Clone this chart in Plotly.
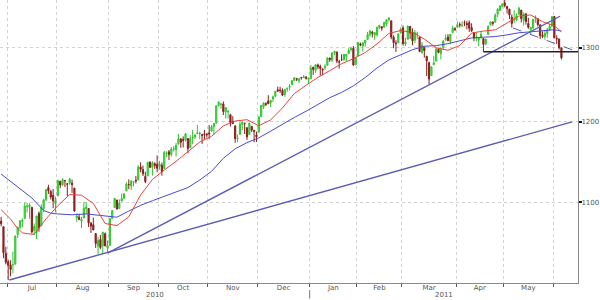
import numpy as np
import pandas as pd
import plotly.graph_objects as go

# ---------------- data ----------------
holidays = ["2010-07-05", "2010-09-06", "2010-11-25", "2010-12-24",
            "2011-01-17", "2011-02-21", "2011-04-22", "2011-05-30"]
dates = [d for d in pd.bdate_range("2010-06-28", "2011-06-06")
         if d.strftime("%Y-%m-%d") not in holidays]

open_ = [1077.5,1071.1,1040.6,1031.1,1027.7,1028.1,1028.5,1062.0,1070.5,1077.2,
         1080.7,1094.5,1094.5,1093.9,1066.9,1064.5,1086.7,1072.1,1092.2,1102.9,
         1117.4,1112.8,1108.1,1098.4,1107.5,1125.3,1121.1,1125.8,1122.1,1122.8,
         1122.9,1116.9,1081.5,1082.2,1077.5,1081.2,1092.1,1092.4,1075.6,1073.4,
         1063.2,1049.0,1056.3,1049.3,1062.9,1046.9,1049.7,1080.7,1093.6,1102.6,
         1092.4,1101.2,1104.6,1113.4,1121.2,1119.4,1123.9,1126.4,1126.6,1142.8,
         1139.5,1131.1,1131.7,1148.6,1142.3,1146.8,1146.0,1143.5,1145.0,1140.7,
         1159.8,1161.6,1158.4,1165.3,1164.3,1171.3,1177.8,1177.5,1176.8,1178.6,
         1166.7,1179.6,1180.5,1184.7,1184.9,1183.8,1184.5,1183.9,1185.7,1187.9,
         1193.8,1198.3,1221.2,1223.2,1223.6,1213.1,1213.0,1209.1,1200.4,1194.8,
         1178.3,1183.8,1196.1,1198.1,1192.5,1183.7,1194.2,1189.1,1183.0,1186.6,
         1206.8,1219.9,1223.9,1227.3,1225.0,1230.1,1233.9,1242.5,1241.8,1241.6,
         1236.3,1243.6,1245.8,1249.4,1254.9,1257.5,1254.7,1259.1,1258.8,1259.4,
         1256.8,1257.6,1273.0,1268.8,1276.3,1274.4,1270.8,1272.6,1275.7,1285.8,
         1282.9,1293.2,1294.5,1280.9,1283.6,1283.3,1288.2,1292.0,1297.5,1299.6,
         1276.5,1289.1,1305.9,1302.8,1307.0,1311.9,1318.8,1322.5,1318.1,1318.7,
         1328.7,1330.4,1329.5,1334.4,1340.4,1338.9,1315.4,1307.1,1307.3,1321.6,
         1328.6,1305.5,1312.4,1330.7,1322.7,1311.1,1319.9,1315.7,1293.4,1301.2,
         1288.5,1279.5,1261.6,1276.7,1281.7,1298.3,1292.2,1300.6,1311.8,1315.5,
         1309.4,1321.9,1327.4,1329.5,1333.6,1332.0,1335.9,1334.8,1336.2,1329.0,
         1322.0,1314.0,1311.1,1314.5,1313.4,1306.0,1319.1,1333.2,1337.1,1336.8,
         1348.4,1353.9,1360.1,1365.2,1359.8,1355.9,1344.2,1340.2,1340.2,1348.3,
         1354.5,1339.4,1348.7,1334.8,1326.1,1328.5,1342.4,1342.0,1333.1,1317.7,
         1316.4,1320.6,1325.7,1331.1,1345.2,1313.6,1312.9,1300.3]
high = [1082.6,1071.1,1048.1,1033.6,1032.9,1042.5,1060.9,1071.3,1078.2,1080.8,
        1099.5,1099.1,1098.7,1093.9,1074.7,1083.9,1089.0,1097.5,1103.7,1115.0,
        1121.0,1114.7,1115.9,1106.4,1127.3,1125.4,1128.8,1126.6,1123.1,1129.2,
        1127.2,1116.9,1086.7,1086.3,1082.6,1100.1,1099.8,1092.4,1075.6,1081.6,
        1063.2,1059.4,1061.5,1065.2,1064.4,1055.1,1081.3,1090.1,1105.1,1102.6,
        1103.3,1110.3,1110.9,1123.9,1127.4,1126.5,1125.4,1131.5,1144.9,1148.6,
        1144.4,1136.8,1148.9,1149.9,1150.0,1148.6,1157.2,1150.3,1148.2,1162.8,
        1162.3,1163.9,1167.7,1168.7,1172.6,1184.4,1178.9,1181.2,1185.5,1178.6,
        1182.9,1189.4,1184.0,1196.1,1187.1,1183.8,1189.5,1185.5,1195.8,1195.9,
        1198.3,1221.3,1227.1,1224.6,1226.8,1218.8,1215.5,1210.5,1207.4,1194.8,
        1183.6,1200.3,1200.0,1198.9,1192.5,1198.6,1194.2,1189.1,1187.4,1207.6,
        1221.9,1225.6,1225.8,1235.1,1228.9,1234.7,1240.4,1246.7,1246.6,1244.3,
        1243.8,1245.8,1250.2,1255.8,1259.4,1258.6,1258.4,1259.9,1262.6,1261.1,
        1259.3,1276.2,1274.1,1277.6,1278.2,1276.8,1271.5,1277.6,1286.9,1286.7,
        1293.2,1296.1,1294.6,1283.4,1291.2,1291.9,1291.3,1299.7,1301.6,1302.7,
        1287.2,1308.9,1307.6,1308.6,1311.0,1322.9,1324.9,1324.5,1322.0,1330.8,
        1333.0,1330.4,1337.6,1341.5,1344.1,1338.9,1317.9,1310.9,1320.6,1329.4,
        1332.1,1314.2,1332.3,1331.1,1327.7,1325.7,1323.2,1315.7,1308.4,1301.2,
        1288.5,1280.9,1274.0,1288.9,1300.6,1299.4,1300.5,1311.3,1319.2,1319.7,
        1319.5,1331.7,1329.8,1337.9,1336.7,1338.2,1339.4,1338.8,1339.5,1335.2,
        1322.0,1321.4,1315.0,1322.9,1313.4,1312.7,1332.7,1337.5,1337.5,1349.6,
        1357.5,1361.7,1364.6,1370.6,1360.8,1355.9,1348.0,1354.4,1349.4,1359.4,
        1354.5,1351.1,1350.5,1343.3,1330.4,1341.8,1346.8,1342.0,1333.1,1323.7,
        1325.9,1328.5,1334.6,1345.2,1345.2,1318.0,1312.9,1300.3]
low = [1071.5,1035.2,1028.3,1010.9,1015.0,1018.4,1028.5,1058.2,1068.1,1070.5,
       1080.7,1087.7,1080.5,1063.3,1061.1,1056.9,1065.3,1072.1,1087.9,1101.3,
       1109.8,1103.1,1092.8,1088.0,1107.5,1116.8,1119.5,1118.2,1107.1,1120.9,
       1111.0,1088.6,1076.7,1079.0,1069.5,1081.2,1085.8,1070.7,1063.9,1067.1,
       1046.7,1039.8,1045.4,1039.7,1048.8,1040.9,1049.7,1080.4,1093.6,1091.2,
       1092.4,1101.2,1103.9,1113.4,1115.6,1114.6,1118.9,1122.4,1126.6,1136.2,
       1131.6,1122.8,1131.7,1142.0,1132.1,1140.3,1136.1,1139.4,1131.9,1140.7,
       1154.9,1151.4,1155.6,1162.0,1155.7,1171.3,1166.7,1167.1,1174.6,1159.7,
       1166.7,1171.2,1178.0,1184.7,1177.7,1171.7,1177.1,1179.7,1177.7,1187.9,
       1183.6,1198.3,1220.3,1217.2,1208.9,1204.3,1204.5,1194.1,1197.2,1173.0,
       1173.9,1183.8,1189.4,1184.3,1176.9,1183.7,1186.9,1173.6,1174.1,1186.6,
       1206.8,1216.8,1220.7,1223.3,1219.5,1226.0,1232.6,1240.3,1238.2,1234.0,
       1232.9,1239.9,1241.5,1249.4,1254.9,1254.1,1251.5,1256.2,1258.8,1256.3,
       1250.2,1257.6,1262.7,1265.4,1270.4,1261.7,1262.2,1269.6,1275.7,1280.5,
       1280.7,1290.2,1278.9,1271.3,1282.1,1282.5,1281.1,1292.0,1295.1,1275.1,
       1276.5,1289.1,1302.6,1294.8,1301.7,1311.9,1316.0,1314.9,1311.7,1316.1,
       1326.9,1324.6,1329.5,1331.0,1338.1,1312.3,1299.6,1294.3,1307.3,1320.5,
       1303.2,1302.6,1312.4,1312.6,1304.0,1306.9,1312.3,1294.2,1292.0,1286.4,
       1261.1,1249.1,1261.6,1276.2,1281.7,1292.7,1284.1,1297.7,1310.2,1310.2,
       1305.3,1321.9,1325.0,1328.9,1329.1,1330.0,1331.1,1326.6,1322.9,1322.9,
       1309.5,1309.2,1302.6,1313.7,1294.7,1304.0,1319.1,1332.0,1331.7,1336.8,
       1344.3,1353.6,1358.7,1358.6,1349.5,1341.5,1329.2,1335.6,1338.6,1348.3,
       1336.4,1332.0,1333.4,1327.3,1318.5,1326.6,1336.1,1330.7,1312.6,1313.9,
       1311.8,1314.4,1325.7,1331.1,1313.7,1305.6,1297.9,1284.0]
close = [1074.6,1041.2,1030.7,1027.4,1022.6,1028.1,1060.3,1070.3,1078.0,1078.8,
         1095.3,1095.2,1096.5,1064.9,1071.3,1083.5,1069.6,1093.7,1102.7,1115.0,
         1113.8,1106.1,1101.5,1101.6,1125.9,1120.5,1127.2,1125.8,1121.6,1127.8,
         1121.1,1089.5,1083.6,1079.3,1079.4,1092.5,1094.2,1075.6,1071.7,1067.4,
         1051.9,1055.3,1047.2,1064.6,1048.9,1049.3,1080.3,1090.1,1104.5,1091.8,
         1098.9,1104.2,1109.6,1121.9,1121.1,1125.1,1124.7,1125.6,1142.7,1139.8,
         1134.3,1124.8,1148.7,1142.2,1147.7,1144.7,1141.2,1146.2,1137.0,1160.8,
         1160.0,1158.1,1165.2,1165.3,1169.8,1178.1,1173.8,1176.2,1184.7,1165.9,
         1178.2,1180.3,1183.1,1185.6,1185.6,1182.5,1183.8,1183.3,1184.4,1193.6,
         1198.0,1221.1,1225.9,1223.3,1213.4,1218.7,1213.5,1199.2,1197.8,1178.3,
         1178.6,1196.7,1199.7,1197.8,1180.7,1198.4,1189.4,1187.8,1180.6,1206.1,
         1221.5,1224.7,1223.1,1223.8,1228.3,1233.0,1240.4,1240.5,1241.6,1235.2,
         1242.9,1243.9,1247.1,1254.6,1258.8,1256.8,1257.5,1258.5,1259.8,1257.9,
         1257.6,1271.9,1270.2,1276.6,1273.9,1271.5,1269.8,1274.5,1286.0,1283.8,
         1293.2,1295.0,1281.9,1280.3,1283.4,1290.8,1291.2,1296.6,1299.5,1276.3,
         1286.1,1307.6,1304.0,1307.1,1310.9,1319.1,1324.6,1320.9,1321.9,1329.2,
         1332.3,1328.0,1336.3,1340.4,1343.0,1315.4,1307.4,1306.1,1319.9,1327.2,
         1306.3,1308.4,1331.0,1321.2,1310.1,1321.8,1320.0,1295.1,1304.3,1296.4,
         1281.9,1256.9,1273.7,1279.2,1298.4,1293.8,1297.5,1309.7,1313.8,1310.2,
         1319.4,1328.3,1325.8,1332.4,1332.9,1332.6,1335.5,1333.5,1328.2,1324.5,
         1314.2,1314.4,1314.5,1319.7,1305.1,1312.6,1330.4,1337.4,1335.3,1347.2,
         1355.7,1360.5,1363.6,1361.2,1356.6,1347.3,1335.1,1340.2,1346.3,1357.2,
         1342.1,1348.7,1337.8,1329.5,1329.0,1340.7,1343.6,1333.3,1317.4,1316.3,
         1320.5,1325.7,1331.1,1345.2,1314.6,1312.9,1300.2,1286.2]

# moving averages (trading-day index, level)
ma_short_x = [0, 2, 4, 7, 9, 11, 14, 19, 24, 29, 34, 39, 44, 49, 54, 59, 64, 69, 74, 79,
              84, 89, 94, 99, 104, 109, 114, 119, 124, 129, 134, 139, 144, 149, 154,
              159, 164, 169, 174, 179, 184, 189, 194, 199, 204, 209, 214, 219, 224,
              229, 234, 237]
ma_short_y = [1091, 1086, 1080, 1069, 1064, 1063, 1062.3, 1080.2, 1095.8, 1109.1, 1108.3,
              1098.5, 1074.8, 1072.4, 1082.6, 1108.6, 1127.4, 1139.0, 1149.7, 1161.8,
              1174.0, 1181.3, 1194.8, 1201.1, 1202.8, 1194.9, 1202.5, 1218.3, 1237.3,
              1248.6, 1259.2, 1268.4, 1278.0, 1284.9, 1293.6, 1305.7, 1320.7, 1324.8,
              1322.2, 1312.7, 1300.3, 1296.8, 1303.6, 1321.2, 1324.1, 1325.7, 1335.2,
              1345.8, 1347.4, 1337.6, 1331.7, 1323.1]
ma_long_x = [0, 4, 8, 13, 18, 21, 24, 30, 36, 42, 46, 49, 54, 59, 64, 69, 74, 79, 84, 89,
             94, 99, 104, 109, 114, 119, 124, 129, 134, 139, 144, 149, 154, 159, 164,
             169, 174, 179, 184, 189, 194, 199, 204, 209, 214, 219, 224, 229, 234, 237]
ma_long_y = [1134, 1125, 1117, 1105, 1090, 1087, 1086, 1085, 1086, 1084, 1082.5, 1082.2,
             1089.4, 1096.2, 1101.7, 1107.0, 1112.4, 1117.5, 1126.7, 1137.3, 1153.5,
             1165.4, 1173.3, 1179.4, 1187.9, 1197.1, 1205.7, 1213.9, 1222.7, 1231.8,
             1238.9, 1247.8, 1259.0, 1272.1, 1283.3, 1291.0, 1297.6, 1302.5, 1303.3,
             1306.1, 1310.2, 1314.2, 1315.3, 1316.2, 1318.6, 1321.6, 1323, 1325, 1326,
             1324]

# drawn trend lines (trading-day index, level)
trend_long_x = [3.5, 241.5]
trend_long_y = [1011, 1200]
trend_aug_x = [45, 236.4]
trend_aug_y = [1040.9, 1345.5]
trend_down_x = [216.5, 244.0]
trend_down_y = [1328.5, 1294.4]
apr_low_x = [204, 244.0]
apr_low_y = [1294.7, 1294.7]

y_ticks = [1100, 1200, 1300]

# ---------------- figure ----------------
x = list(range(len(close)))
di = pd.DatetimeIndex(dates)
starts = [i for i in range(len(di)) if i == 0 or di[i].month != di[i - 1].month]
bounds = [s - 0.5 for s in starts[1:]]
mids = [(bounds[k] + bounds[k + 1]) / 2 for k in range(len(bounds) - 1)]
mlabels = [di[starts[k + 1]].strftime("%b") for k in range(len(bounds) - 1)]
x_lo, x_hi = -0.47, 244.0
yb = next(i for i in range(len(di)) if di[i].year == 2011) - 0.5

font = dict(family="DejaVu Sans", size=7, color="#555555")

fig = go.Figure()
fig.add_trace(go.Candlestick(
    x=x, open=open_, high=high, low=low, close=close,
    increasing=dict(line=dict(color="#2fc42f", width=1), fillcolor="#55ee55"),
    decreasing=dict(line=dict(color="#8b1c1c", width=1), fillcolor="#9e2424"),
    whiskerwidth=0, showlegend=False, hoverinfo="skip"))
fig.add_trace(go.Scatter(x=ma_long_x, y=ma_long_y, mode="lines",
                         line=dict(color="#4a4ad0", width=1), showlegend=False))
fig.add_trace(go.Scatter(x=ma_short_x, y=ma_short_y, mode="lines",
                         line=dict(color="#e8443c", width=1), showlegend=False))
for tx, ty in [(trend_long_x, trend_long_y), (trend_aug_x, trend_aug_y)]:
    fig.add_trace(go.Scatter(x=tx, y=ty, mode="lines",
                             line=dict(color="#5c5cb4", width=1.4), showlegend=False))
fig.add_trace(go.Scatter(x=trend_down_x, y=trend_down_y, mode="lines",
                         line=dict(color="#5a5ab6", width=1, dash="dash"), showlegend=False))
fig.add_trace(go.Scatter(x=apr_low_x, y=apr_low_y, mode="lines",
                         line=dict(color="#222222", width=1.5), showlegend=False))

for lbl, cx in [("2010", (x_lo + yb) / 2), ("2011", (yb + x_hi) / 2)]:
    fig.add_annotation(x=cx, y=-0.044, xref="x", yref="paper", text=lbl,
                       showarrow=False, font=font, yanchor="middle")
fig.add_shape(type="line", xref="x", yref="paper", x0=yb, x1=yb, y0=-0.025, y1=-0.055,
              line=dict(color="#777777", width=1))

fig.update_layout(
    width=600, height=300, margin=dict(l=0, r=22, t=0, b=17),
    paper_bgcolor="white", plot_bgcolor="white", showlegend=False,
    xaxis=dict(range=[x_lo, x_hi], rangeslider=dict(visible=False),
               tickmode="array", tickvals=mids, ticktext=mlabels, ticks="",
               showgrid=False, zeroline=False, showline=True, linecolor="#8a8a8a",
               tickfont=font, automargin=False, ticklabelstandoff=-2,
               minor=dict(tickmode="array", tickvals=bounds, ticks="outside", ticklen=3,
                          tickcolor="#555555", showgrid=True, gridcolor="#d2d2d2",
                          griddash="dot", gridwidth=1)),
    yaxis=dict(type="log", side="right",
               range=[np.log10(1007.7), np.log10(1369.4)],
               tickmode="array", tickvals=y_ticks, ticktext=[str(v) for v in y_ticks],
               ticks="outside", ticklen=3, tickwidth=2, tickcolor="#111111",
               showgrid=True, gridcolor="#d2d2d2", griddash="dot", gridwidth=1,
               showline=True, linecolor="#8a8a8a", zeroline=False,
               tickfont=font, automargin=False, ticklabelstandoff=-2),
)
fig.write_html("out.html")
